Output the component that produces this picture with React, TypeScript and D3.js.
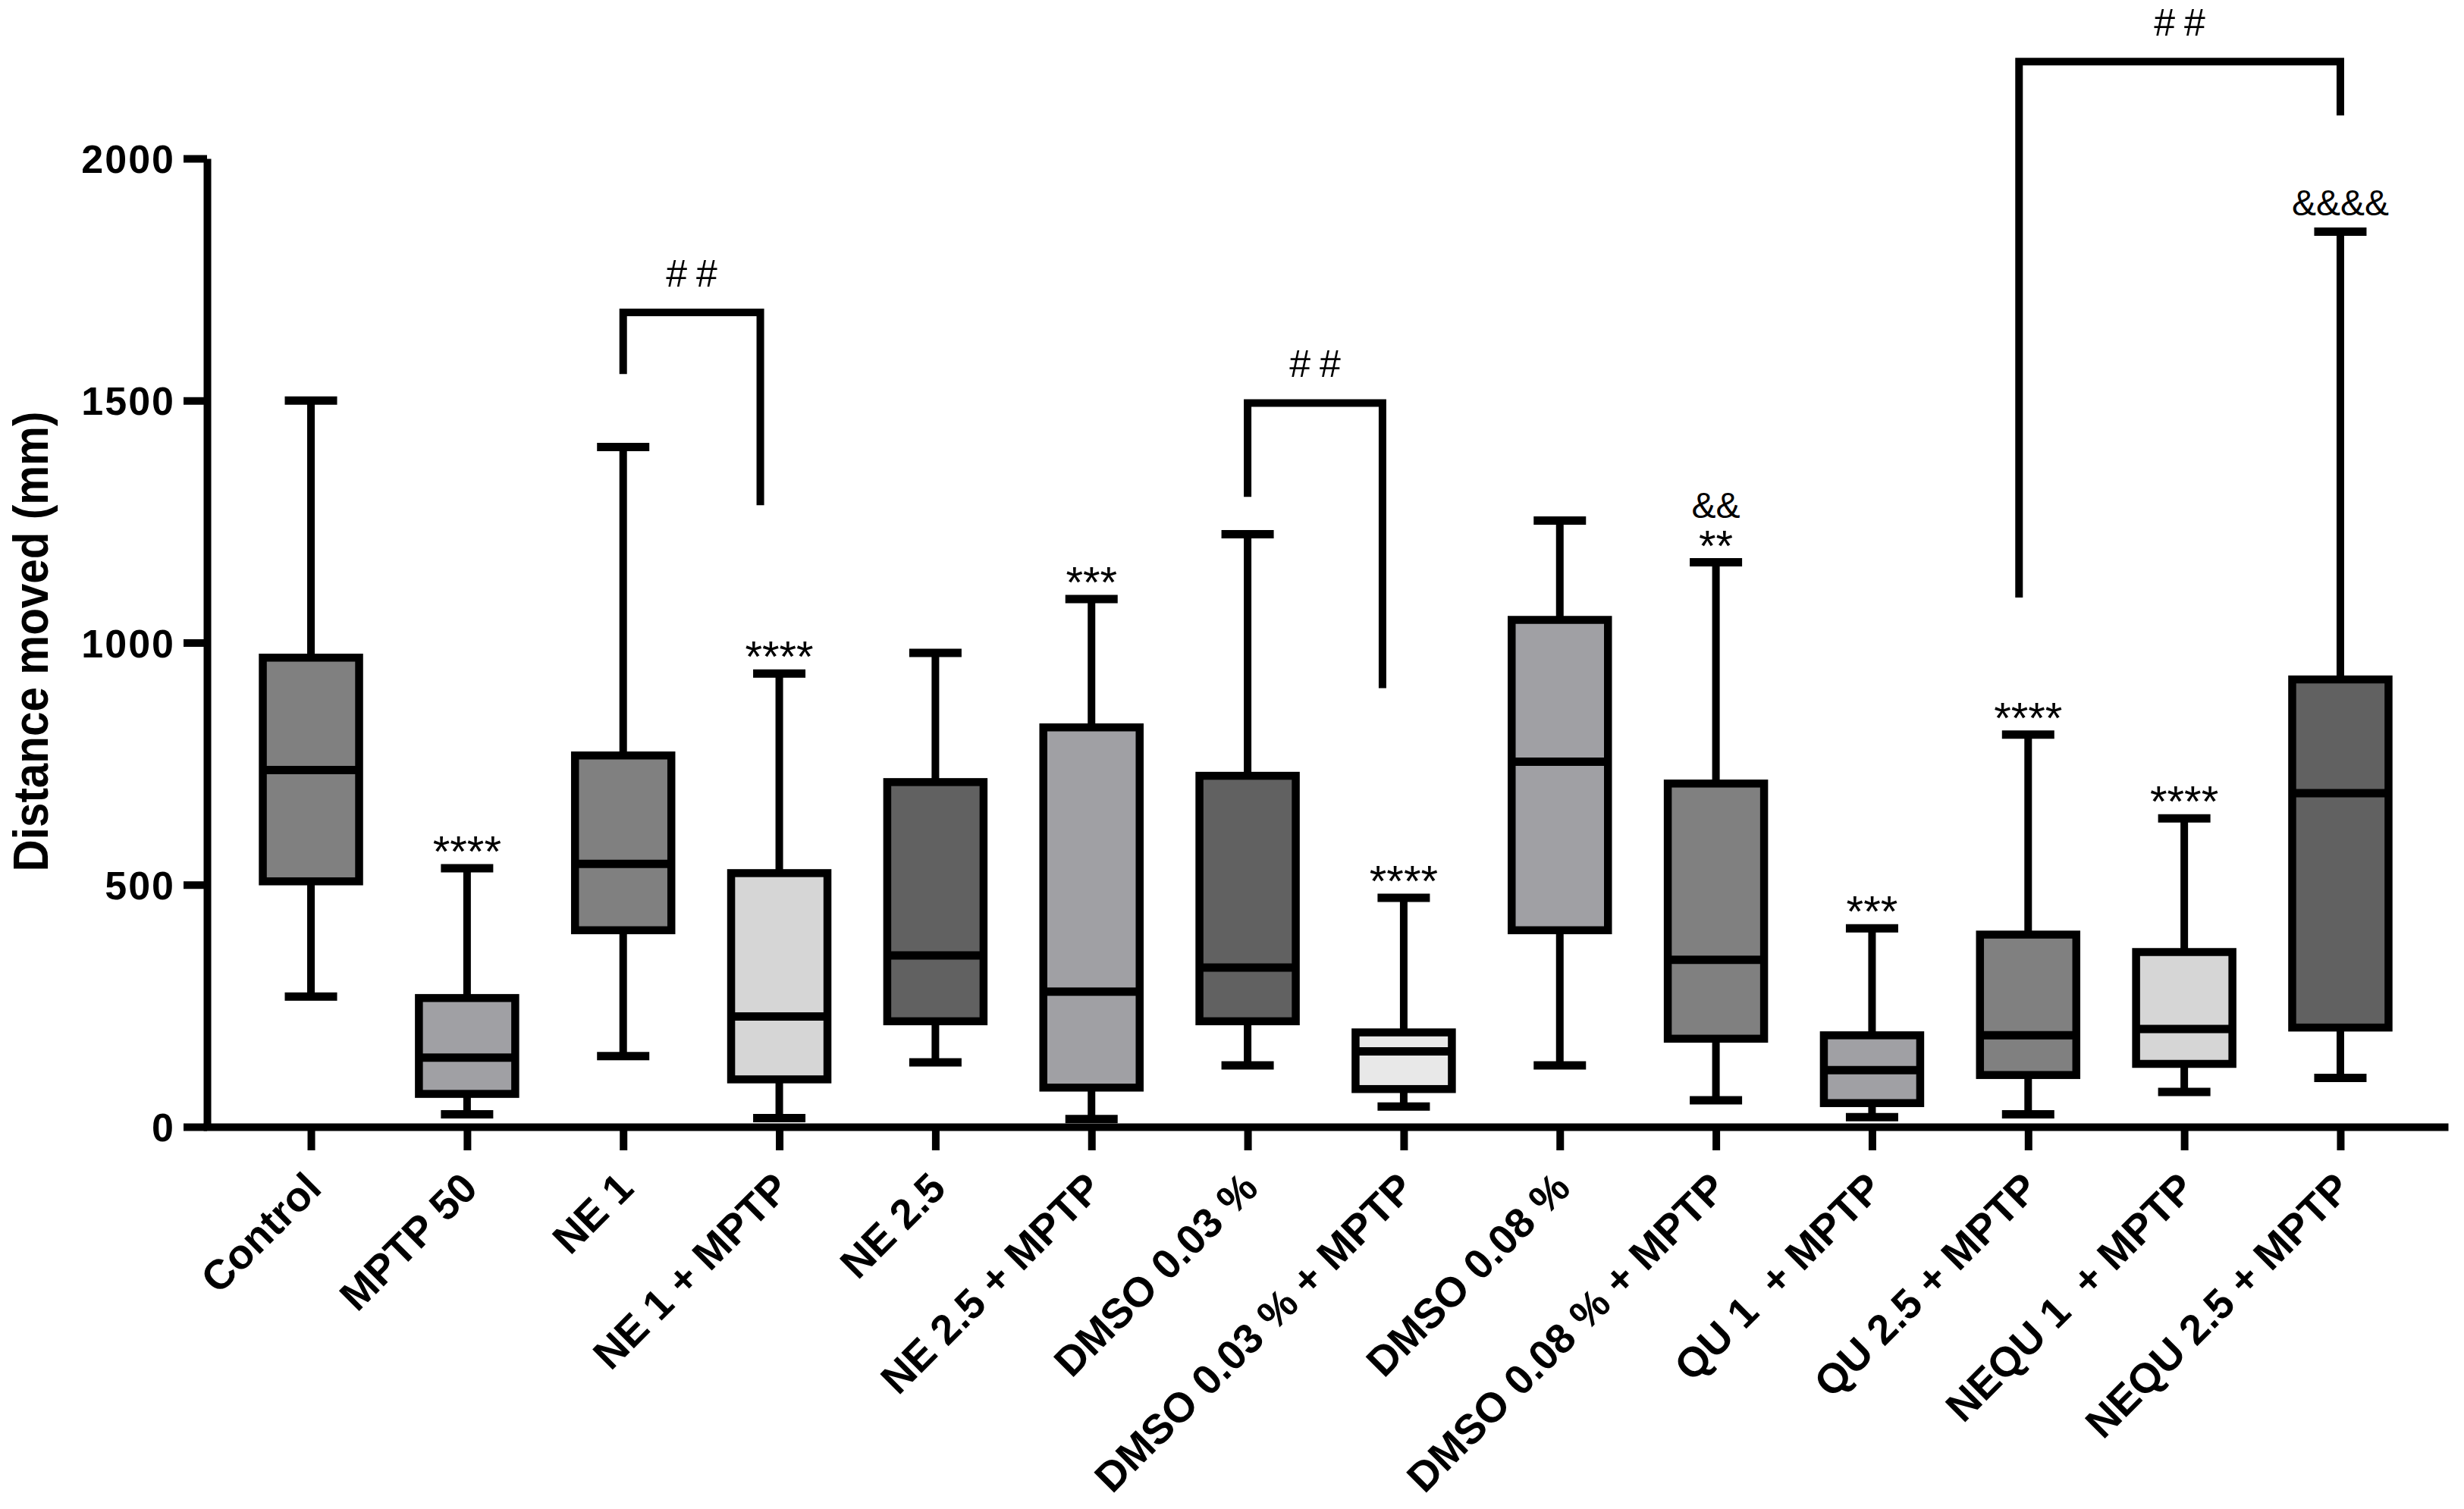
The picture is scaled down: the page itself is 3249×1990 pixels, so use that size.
import React, { useEffect, useRef } from "react";
import * as d3 from "d3";

const groups = [
	"Control",
	"MPTP 50",
	"NE 1",
	"NE 1 + MPTP",
	"NE 2.5",
	"NE 2.5 + MPTP",
	"DMSO 0.03 %",
	"DMSO 0.03 % + MPTP",
	"DMSO 0.08 %",
	"DMSO 0.08 % + MPTP",
	"QU 1  + MPTP",
	"QU 2.5 + MPTP",
	"NEQU 1  + MPTP",
	"NEQU 2.5 + MPTP",
];

const whiskerLow = [269, 26, 146, 18, 133, 16, 127, 42, 127, 55, 20, 26, 72, 101];
const q1 = [507, 68, 406, 98, 218, 81, 218, 78, 406, 182, 49, 107, 130, 205];
const median = [737, 143, 543, 228, 354, 279, 329, 156, 754, 345, 117, 189, 202, 689];
const q3 = [969, 266, 767, 524, 712, 825, 725, 195, 1047, 709, 189, 397, 361, 924];
const whiskerHigh = [1500, 534, 1404, 936, 979, 1090, 1224, 473, 1252, 1166, 410, 810, 637, 1849];

const fills = [
	"#808080",
	"#a0a0a4",
	"#808080",
	"#d6d6d6",
	"#616161",
	"#a0a0a4",
	"#616161",
	"#e8e8e8",
	"#a0a0a4",
	"#808080",
	"#a0a0a4",
	"#808080",
	"#d6d6d6",
	"#616161",
];

// significance vs control (*) and vs DMSO (&)
const stars = ["", "****", "", "****", "", "***", "", "****", "", "**", "***", "****", "****", ""];
const amps = ["", "", "", "", "", "", "", "", "", "&&", "", "", "", "&&&&"];

const yTicks = [0, 500, 1000, 1500, 2000];

const brackets = [
	{ from: "NE 1", to: "NE 1 + MPTP", top: 1682, leftEnd: 1555, rightEnd: 1284, label: "##" },
	{ from: "DMSO 0.03 %", to: "DMSO 0.03 % + MPTP", top: 1495, leftEnd: 1301, rightEnd: 906, label: "##" },
	{ from: "QU 2.5 + MPTP", to: "NEQU 2.5 + MPTP", top: 2200, leftEnd: 1093, rightEnd: 2089, label: "##" },
];
// leg nudges in px [left, right]
const bracketNudge = [
	[0, -25],
	[0, -28],
	[-12, 0],
];

export default function App() {
	const svgRef = useRef<SVGSVGElement>(null);

	useEffect(() => {
		if (!svgRef.current) return;
		const svg = d3.select(svgRef.current);
		svg.selectAll("*").remove();

		const font = "'Liberation Sans', Arial, Helvetica, sans-serif";

		const x = d3.scalePoint<string>().domain(groups).range([268, 3228]).padding(0.69);
		const y = d3.scaleLinear().domain([0, 2000]).range([1486, 209]);

		// y axis
		const yAxis = d3
			.axisLeft(y)
			.tickValues(yTicks)
			.tickFormat(d3.format("d"))
			.tickSize(31)
			.tickSizeOuter(0);
		const yAxisGroup = svg.append("g").attr("transform", "translate(273,0)").call(yAxis);
		yAxisGroup.select(".domain").attr("stroke", "#000").attr("stroke-width", 10);
		yAxisGroup.selectAll(".tick line").attr("stroke", "#000").attr("stroke-width", 10);
		yAxisGroup
			.selectAll(".tick text")
			.attr("x", -42)
			.attr("dy", "0.36em")
			.attr("fill", "#000")
			.attr("letter-spacing", 2)
			.style("font-family", font)
			.style("font-size", "52px")
			.style("font-weight", "bold");

		// x axis
		const xAxis = d3.axisBottom(x).tickSize(31).tickSizeOuter(0);
		const xAxisGroup = svg.append("g").attr("transform", "translate(0,1486)").call(xAxis);
		xAxisGroup.select(".domain").attr("stroke", "#000").attr("stroke-width", 10);
		xAxisGroup.selectAll(".tick line").attr("stroke", "#000").attr("stroke-width", 10);
		xAxisGroup
			.selectAll(".tick text")
			.attr("x", 0)
			.attr("y", 0)
			.attr("dy", 0)
			.attr("transform", "translate(16,84) rotate(-45)")
			.attr("text-anchor", "end")
			.attr("fill", "#000")
			.style("white-space", "pre")
			.style("font-family", font)
			.style("font-size", "55px")
			.style("font-weight", "bold");

		// y title
		svg
			.append("text")
			.attr("transform", "translate(63,846) rotate(-90)")
			.attr("text-anchor", "middle")
			.attr("textLength", 607)
			.attr("lengthAdjust", "spacingAndGlyphs")
			.style("font-family", font)
			.style("font-size", "64px")
			.style("font-weight", "bold")
			.text("Distance moved (mm)");

		// boxes
		const boxW = 127;
		const capW = 69;
		groups.forEach((g, i) => {
			const cx = x(g) as number;
			const grp = svg.append("g");
			grp
				.append("line")
				.attr("x1", cx)
				.attr("x2", cx)
				.attr("y1", y(whiskerLow[i]))
				.attr("y2", y(q1[i]))
				.attr("stroke", "#000")
				.attr("stroke-width", 10);
			grp
				.append("line")
				.attr("x1", cx)
				.attr("x2", cx)
				.attr("y1", y(q3[i]))
				.attr("y2", y(whiskerHigh[i]))
				.attr("stroke", "#000")
				.attr("stroke-width", 10);
			[whiskerLow[i], whiskerHigh[i]].forEach((v) => {
				grp
					.append("line")
					.attr("x1", cx - capW / 2)
					.attr("x2", cx + capW / 2)
					.attr("y1", y(v))
					.attr("y2", y(v))
					.attr("stroke", "#000")
					.attr("stroke-width", 11);
			});
			grp
				.append("rect")
				.attr("x", cx - boxW / 2)
				.attr("y", y(q3[i]))
				.attr("width", boxW)
				.attr("height", y(q1[i]) - y(q3[i]))
				.attr("fill", fills[i])
				.attr("stroke", "#000")
				.attr("stroke-width", 10.5);
			grp
				.append("line")
				.attr("x1", cx - boxW / 2)
				.attr("x2", cx + boxW / 2)
				.attr("y1", y(median[i]))
				.attr("y2", y(median[i]))
				.attr("stroke", "#000")
				.attr("stroke-width", 11);

			if (stars[i]) {
				grp
					.append("text")
					.attr("x", cx)
					.attr("y", y(whiskerHigh[i]) - 2)
					.attr("text-anchor", "middle")
					.style("font-family", font)
					.style("font-size", "58px")
					.text(stars[i]);
			}
			if (amps[i]) {
				grp
					.append("text")
					.attr("x", cx)
					.attr("y", y(whiskerHigh[i]) - (stars[i] ? 59 : 21))
					.attr("text-anchor", "middle")
					.style("font-family", font)
					.style("font-size", "48px")
					.text(amps[i]);
			}
		});

		// comparison brackets
		brackets.forEach((b, i) => {
			const xl = (x(b.from) as number) + bracketNudge[i][0];
			const xr = (x(b.to) as number) + bracketNudge[i][1];
			svg
				.append("path")
				.attr("d", `M${xl},${y(b.leftEnd)}V${y(b.top)}H${xr}V${y(b.rightEnd)}`)
				.attr("fill", "none")
				.attr("stroke", "#000")
				.attr("stroke-width", 10)
				.attr("stroke-linejoin", "miter");
			svg
				.append("text")
				.attr("x", (xl + xr) / 2 + 6)
				.attr("y", y(b.top) - 34)
				.attr("text-anchor", "middle")
				.attr("letter-spacing", 12)
				.style("font-family", font)
				.style("font-size", "50px")
				.text(b.label);
		});
	}, []);

	return (
		<svg
			ref={svgRef}
			width={3249}
			height={1990}
			style={{ position: "absolute", left: 0, top: 0, background: "#fff" }}
		/>
	);
}
